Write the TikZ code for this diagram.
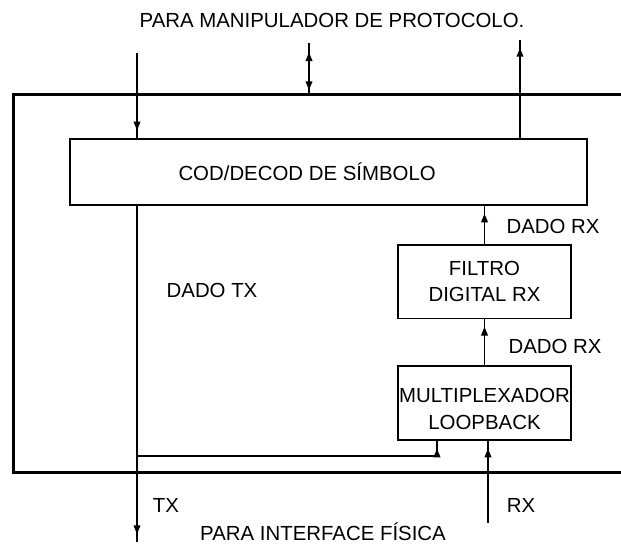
\documentclass[tikz,border=0pt]{standalone}
\usepackage{fontspec}
\setmainfont{Liberation Sans}
\usetikzlibrary{arrows.meta,positioning,calc,decorations.markings}

\begin{document}
\begin{tikzpicture}[x=0.75pt, y=-0.75pt,
            every node/.style={font=\fontsize{15.3}{20}\selectfont, inner sep=0pt},
            every label/.style={align=center, inner sep=0pt},
            lbl/.style={text height=11pt, text depth=0pt},
            blk/.style={draw, line width=1pt, align=center},
            sig/.style={draw, line width=1.1pt, postaction={decorate},
                decoration={markings, mark=at position -6pt with {\arrow{Triangle[length=6.5pt,width=5pt]}}}},
            bisig/.style={draw, line width=1.1pt, postaction={decorate},
                decoration={markings,
                    mark=at position 7pt with {\arrowreversed{Triangle[length=6.5pt,width=5pt]}},
                    mark=at position -3pt with {\arrow{Triangle[length=6.5pt,width=5pt]}}}}]
        \useasboundingbox (0,0) rectangle (621,544);
        % outer frame
        \draw[line width=2.25pt] (630,94) -- (13,94) -- (13,472) -- (630,472);
        % blocks
        \node[blk, minimum width=387.75pt, minimum height=49.5pt,
              label={[xshift=-16pt]center:COD/DECOD DE SÍMBOLO}] (sym) at (328.5,172) {};
        \node[blk, minimum width=129.75pt, minimum height=55pt] (filtro) at (484.5,281.5) {FILTRO\\DIGITAL RX};
        \node[blk, minimum width=129.75pt, minimum height=55.5pt,
              label={[yshift=-4.5pt]center:MULTIPLEXADOR\\LOOPBACK}] (mux) at (484.5,403) {};
        % labels
        \node[lbl] (prot) at (332,20) {PARA MANIPULADOR DE PROTOCOLO.};
        \node[lbl] (rx1) at (553,226) {DADO RX};
        \node[lbl] (rx2) at (555,346) {DADO RX};
        \node[lbl] (dtx) at (212,290) {DADO TX};
        \node[lbl] (tx) at (166,505) {TX};
        \node[lbl] (rx) at (521,505) {RX};
        \node[lbl] (phy) at (323,533) {PARA INTERFACE FÍSICA};
        % end points
        \coordinate (protin) at (137,53);
        \coordinate (protio) at (309,43);
        \coordinate (protout) at (520,40);
        \coordinate (phytx) at (137,542);
        \coordinate (phyrx) at (488,523);
        \coordinate (loop) at (137,456);
        \coordinate (lbk) at (437,456);
        % connectors
        \draw[sig] (protin) -- (protin |- sym.north);
        \draw[bisig] (protio) -- (309,94);
        \draw[sig] (protout |- sym.north) -- (protout);
        \draw[sig] (filtro.north) -- (filtro.north |- sym.south);
        \draw[sig] (mux.north) -- (filtro.south);
        \draw[sig] (phytx |- sym.south) -- (phytx);
        \draw[sig] (loop) -- (lbk) -- (lbk |- mux.south);
        \draw[sig] (phyrx) -- (phyrx |- mux.south);
\end{tikzpicture}
\end{document}
